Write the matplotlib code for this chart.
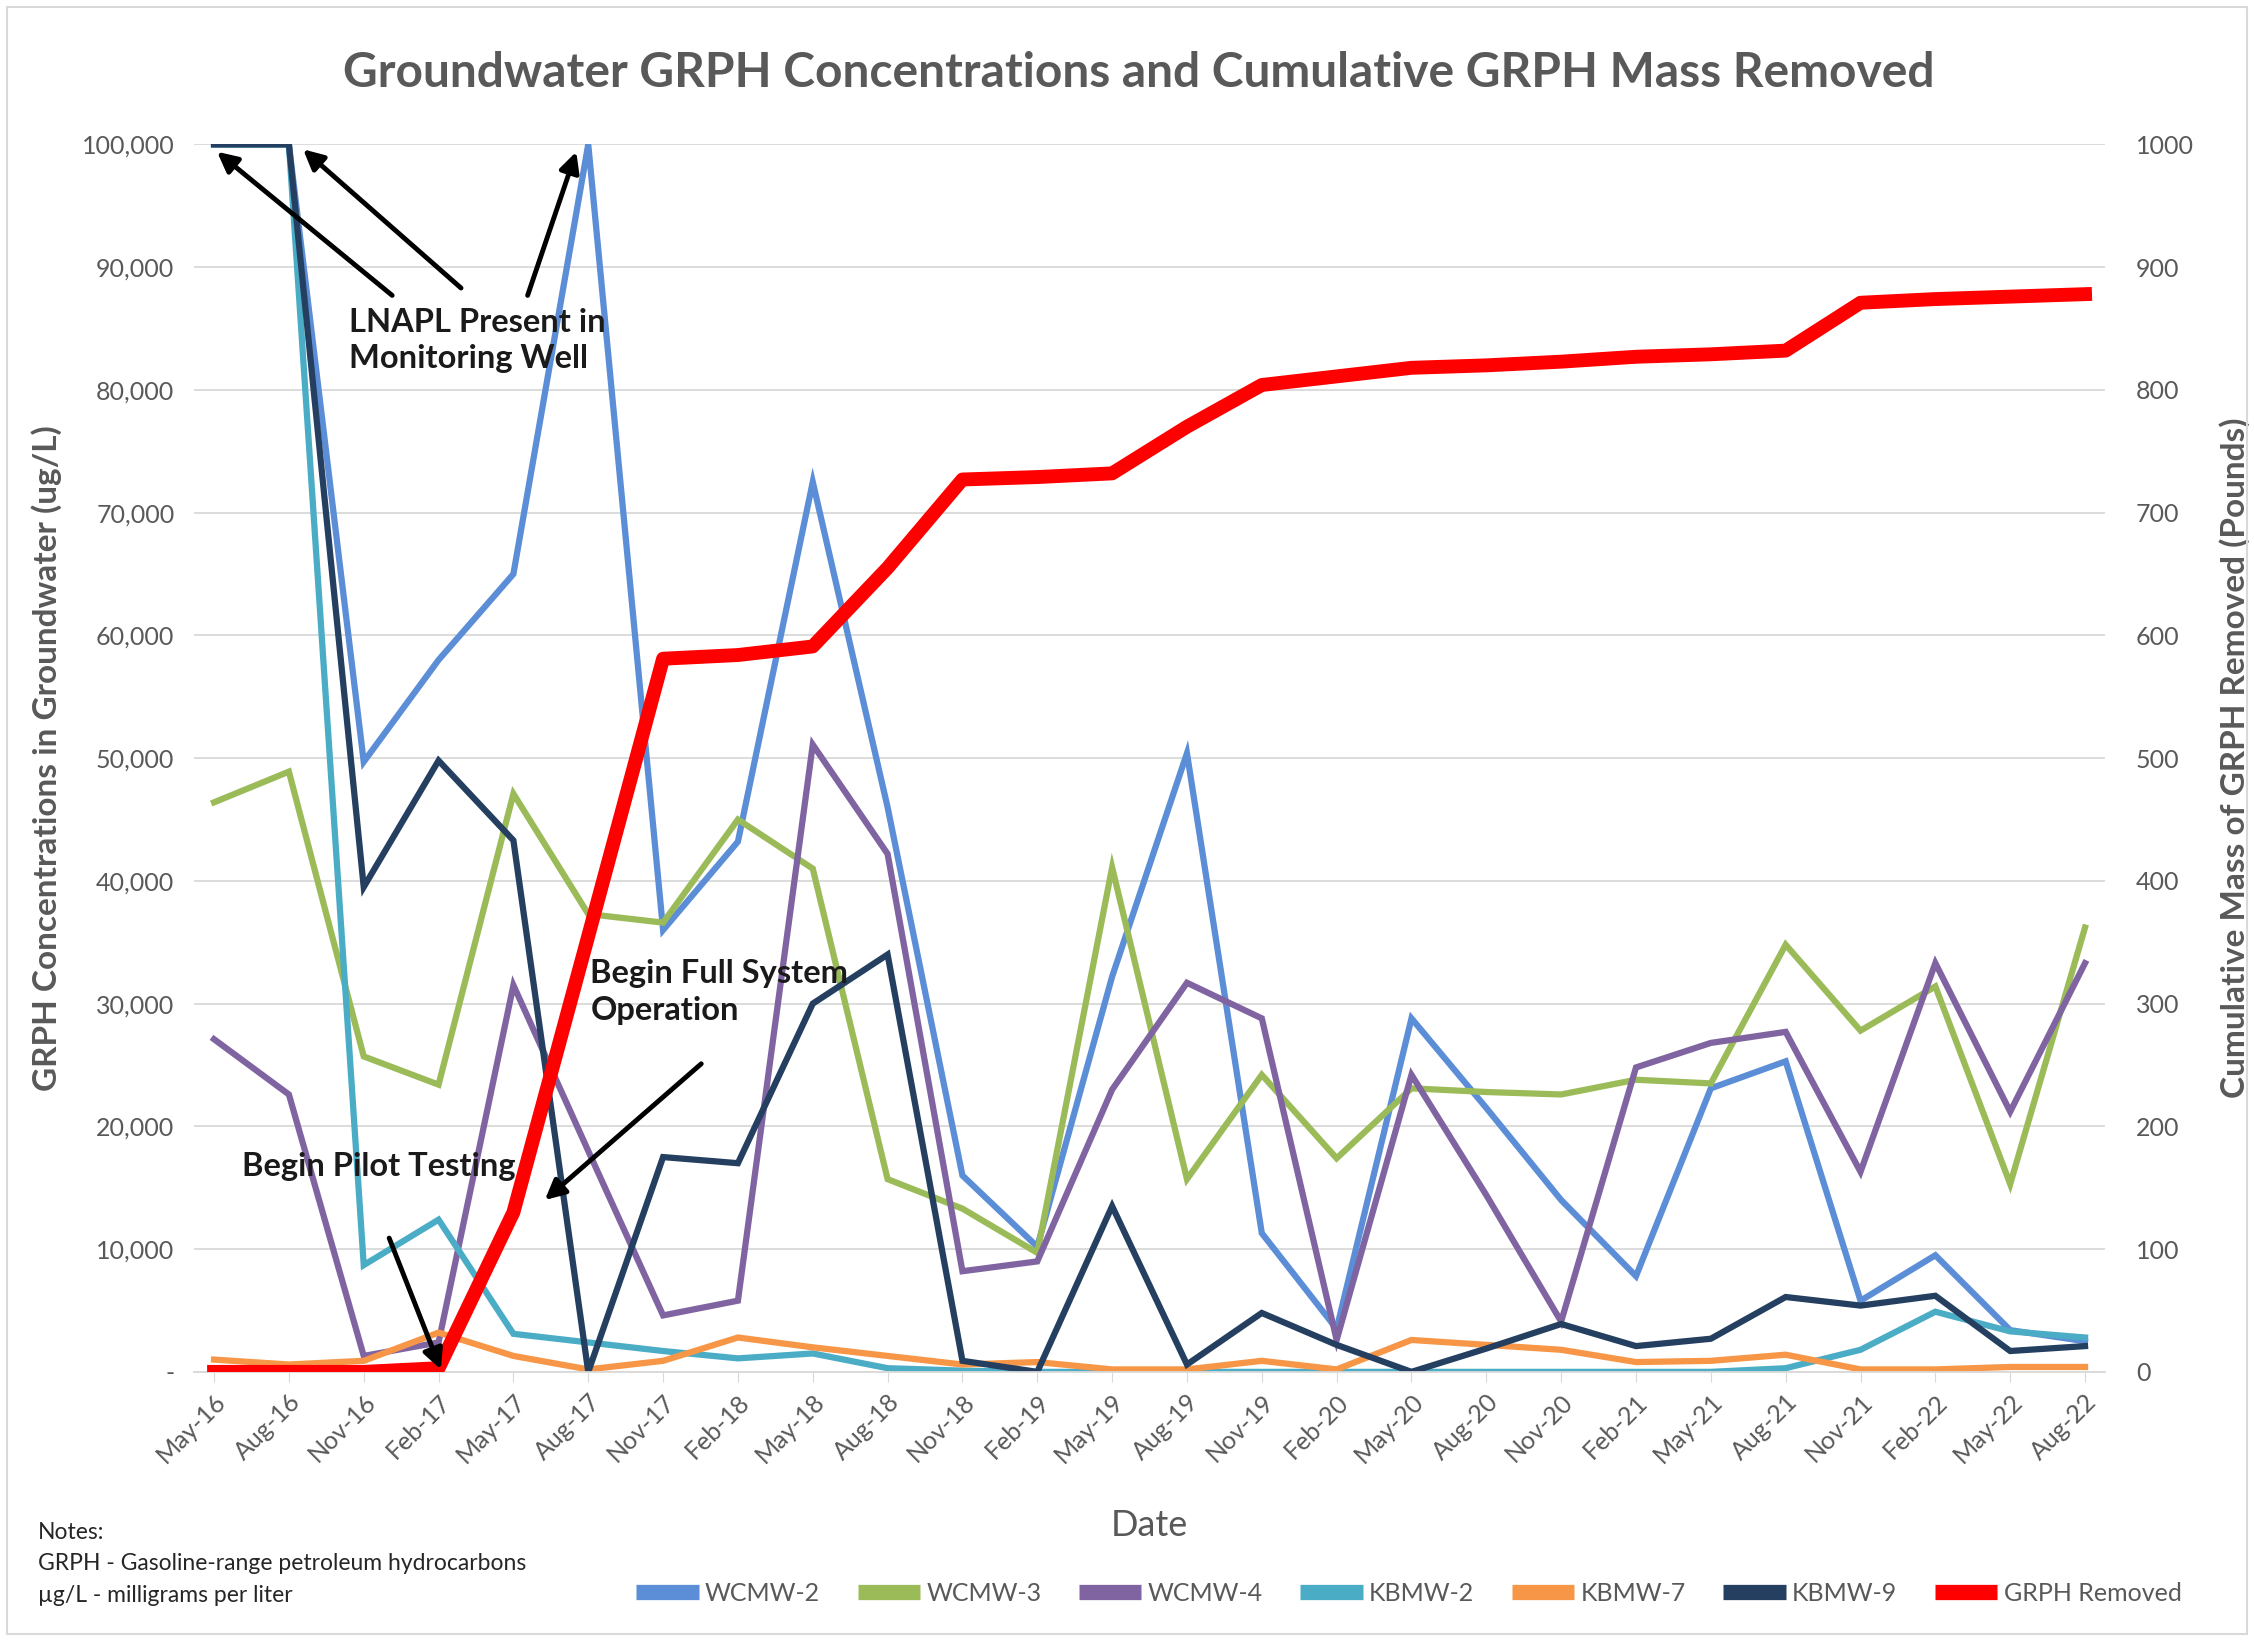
import matplotlib
matplotlib.use("agg")
import matplotlib.pyplot as plt
from matplotlib.patches import Rectangle
from matplotlib.ticker import FuncFormatter, MultipleLocator
import numpy as np

plt.rcParams['font.family'] = ['Lato', 'DejaVu Sans']

dates = ['May-16', 'Aug-16', 'Nov-16', 'Feb-17', 'May-17', 'Aug-17', 'Nov-17',
         'Feb-18', 'May-18', 'Aug-18', 'Nov-18', 'Feb-19', 'May-19', 'Aug-19',
         'Nov-19', 'Feb-20', 'May-20', 'Aug-20', 'Nov-20', 'Feb-21', 'May-21',
         'Aug-21', 'Nov-21', 'Feb-22', 'May-22', 'Aug-22']

# groundwater concentrations (ug/L)
wcmw2 = [100000, 100000, 49700, 58000, 65000, 100000, 36000, 43200, 72500, 46000,
         16000, 10200, 32200, 50400, 11300, 3500, 28800, 21500, 14000, 7800,
         23100, 25300, 5800, 9500, 3400, 2500]
wcmw3 = [46400, 48900, 25700, 23400, 47100, 37300, 36600, 45000, 41000, 15700,
         13300, 9700, 41100, 15700, 24200, 17400, 23100, 22800, 22600, 23800,
         23500, 34800, 27800, 31400, 15300, 36200]
wcmw4 = [27100, 22600, 1300, 2400, 31500, 18000, 4600, 5800, 51100, 42200,
         8200, 9000, 23000, 31700, 28800, 2600, 24200, 14400, 4100, 24800,
         26800, 27700, 16300, 33300, 21200, 33300]
kbmw2 = [100000, 100000, 8700, 12400, 3100, 2400, 1700, 1100, 1500, 300,
         100, 0, 0, 0, 0, 0, 0, 0, 0, 0,
         0, 300, 1800, 4900, 3300, 2800]
kbmw7 = [1000, 600, 900, 3200, 1300, 200, 900, 2800, 2000, 1300,
         600, 800, 200, 200, 900, 200, 2600, 2200, 1800, 800,
         900, 1400, 200, 200, 400, 400]
kbmw9 = [100000, 100000, 39500, 49800, 43300, 0, 17500, 17000, 30000, 34000,
         900, 0, 13500, 600, 4800, 2200, 0, 1900, 3900, 2100,
         2700, 6100, 5400, 6200, 1700, 2100]

# cumulative mass removed (pounds)
removed = [0, 0, 0, 3, 130, 355, 581, 584, 591, 655,
           727, 729, 732, 770, 804, 811, 818, 820, 823, 827,
           829, 832, 871, 874, 876, 878]

series = [('WCMW-2', wcmw2, '#5B8ED6'),
          ('WCMW-3', wcmw3, '#9BBB59'),
          ('WCMW-4', wcmw4, '#8064A2'),
          ('KBMW-2', kbmw2, '#4BACC6'),
          ('KBMW-7', kbmw7, '#F79646'),
          ('KBMW-9', kbmw9, '#243F60')]

gray = '#595959'
x = np.arange(len(dates))

fig = plt.figure(figsize=(22.54, 16.41), dpi=100)
ax = fig.add_axes([0.086, 0.164, 0.848, 0.748])
ax2 = ax.twinx()

handles = []
for name, vals, col in series:
    h, = ax.plot(x, vals, color=col, lw=4.5, label=name, solid_joinstyle='miter')
    handles.append(h)

h, = ax2.plot(x, removed, color='#FF0000', lw=10, label='GRPH Removed',
              solid_joinstyle='round')
handles.append(h)

ax.set_xlim(-0.27, len(dates) - 1 + 0.27)
ax.set_ylim(0, 100000)
ax2.set_ylim(0, 1000)
ax.yaxis.set_major_locator(MultipleLocator(10000))
ax2.yaxis.set_major_locator(MultipleLocator(100))
ax.yaxis.set_major_formatter(FuncFormatter(lambda v, p: '-' if v == 0 else f'{int(v):,}'))
ax.grid(axis='y', color='#D9D9D9', lw=1.3)
ax.set_axisbelow(True)

for a in (ax, ax2):
    for s in a.spines.values():
        s.set_visible(False)
ax.spines['bottom'].set_visible(True)
ax.spines['bottom'].set_color('#D9D9D9')
ax.spines['bottom'].set_linewidth(1.3)

ax.set_xticks(x)
ax.set_xticklabels(dates, rotation=45, ha='right', rotation_mode='anchor')
ax.tick_params(axis='x', length=7, color='#D9D9D9', labelsize=18, labelcolor=gray, pad=6)
ax.tick_params(axis='y', length=0, labelsize=18, labelcolor=gray, pad=14)
ax2.tick_params(axis='y', length=0, labelsize=18, labelcolor=gray, pad=22)

ax.set_ylabel('GRPH Concentrations in Groundwater (ug/L)', fontsize=24,
              color=gray, fontweight='bold', labelpad=14)
ax2.set_ylabel('Cumulative Mass of GRPH Removed (Pounds)', fontsize=24,
               color=gray, fontweight='bold', labelpad=18)
ax.set_xlabel('Date', fontsize=26, color=gray, labelpad=30)

fig.suptitle('Groundwater GRPH Concentrations and Cumulative GRPH Mass Removed',
             x=0.505, y=0.969, fontsize=34.5, fontweight='bold', color=gray)

# annotations
arrow = dict(arrowstyle='-|>', color='black', lw=3.5, mutation_scale=30,
             shrinkA=0, shrinkB=0)
txt = dict(fontsize=23.5, fontweight='bold', color='#1a1a1a')
ax2.text(1.80, 86700, 'LNAPL Present in\nMonitoring Well', transform=ax.transData,
         va='top', ha='left', linespacing=1.3, **txt)
for tail, head in [((2.38, 87700), (0.04, 99400)),
                   ((3.30, 88300), (1.19, 99600)),
                   ((4.19, 87700), (4.84, 99400))]:
    ax2.annotate('', xy=head, xytext=tail, xycoords=ax.transData,
                 textcoords=ax.transData, arrowprops=arrow)

ax2.text(5.03, 33600, 'Begin Full System\nOperation', transform=ax.transData,
         va='top', ha='left', linespacing=1.3, **txt)
ax2.annotate('', xy=(4.42, 14000), xytext=(6.51, 25100), xycoords=ax.transData,
             textcoords=ax.transData, arrowprops=arrow)

ax2.text(0.38, 16700, 'Begin Pilot Testing', transform=ax.transData,
         va='center', ha='left', **txt)
ax2.annotate('', xy=(3.03, 200), xytext=(2.34, 10900), xycoords=ax.transData,
             textcoords=ax.transData, arrowprops=arrow)

leg = fig.legend(handles=handles, loc='center', bbox_to_anchor=(0.625, 0.029), ncol=7,
                 frameon=False, fontsize=18, handlelength=2.5, handletextpad=0.25,
                 columnspacing=1.5, labelcolor=gray)
for ln in leg.get_lines():
    ln.set_linewidth(11)
    ln.set_solid_capstyle('butt')

notes = dict(fontsize=16.5, color='#262626')
fig.text(0.017, 0.062, 'Notes:', **notes)
fig.text(0.017, 0.043, 'GRPH - Gasoline-range petroleum hydrocarbons', **notes)
fig.text(0.017, 0.024, '\u00b5g/L - milligrams per liter', **notes)

fig.patches.append(Rectangle((0.003, 0.004), 0.994, 0.992, transform=fig.transFigure,
                             fill=False, edgecolor='#D9D9D9', lw=1.5))

fig.savefig('out.png', dpi=100)
plt.close(fig)
